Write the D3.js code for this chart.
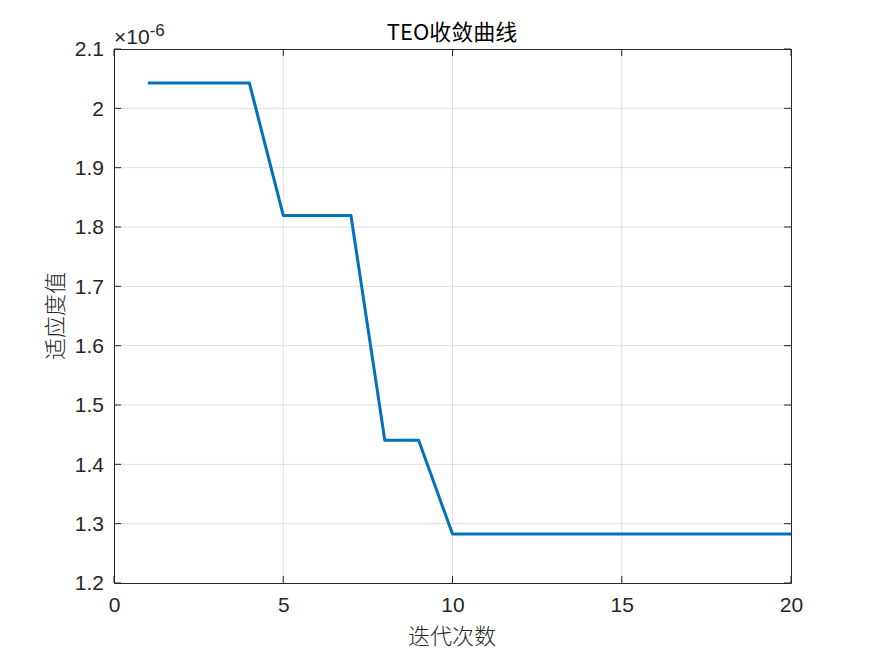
<!DOCTYPE html>
<html><head><meta charset="utf-8">
<script src="https://cdn.jsdelivr.net/npm/d3@7"></script>
<style>body{margin:0;background:#fff}</style>
</head><body>
<svg id="c" width="875" height="656"></svg>
<script>
const iterations = [1,2,3,4,5,6,7,8,9,10,11,12,13,14,15,16,17,18,19,20];
const fitness = [2.0425,2.0425,2.0425,2.0425,1.8195,1.8195,1.8195,1.4405,1.4405,1.2825,1.2825,1.2825,1.2825,1.2825,1.2825,1.2825,1.2825,1.2825,1.2825,1.2825];
const xTicks = [0,5,10,15,20];
const yTicks = [1.2,1.3,1.4,1.5,1.6,1.7,1.8,1.9,2.0,2.1];
const yTickLabels = ["1.2","1.3","1.4","1.5","1.6","1.7","1.8","1.9","2","2.1"];
const title = "TEO收敛曲线", xLabel = "迭代次数", yLabel = "适应度值";

const L=114,R=791,T=49,B=583;
const svg=d3.select("#c");
const x=d3.scaleLinear().domain([0,20]).range([L,R]);
const y=d3.scaleLinear().domain([1.2,2.1]).range([B,T]);
const axCol="#262626", tf="'Liberation Sans',Arial,sans-serif", cjk="'Noto Sans CJK SC',sans-serif";

// grid
const g=svg.append("g");
g.selectAll(".gx").data(xTicks.slice(1,-1)).join("line").attr("x1",d=>x(d)).attr("x2",d=>x(d)).attr("y1",T).attr("y2",B).attr("stroke","#dfdfdf").attr("stroke-width",1);
g.selectAll(".gy").data(yTicks.slice(1,-1)).join("line").attr("y1",d=>y(d)).attr("y2",d=>y(d)).attr("x1",L).attr("x2",R).attr("stroke","#dfdfdf").attr("stroke-width",1);

// line
svg.append("path").datum(iterations.map((v,i)=>[v,fitness[i]]))
 .attr("d",d3.line().x(d=>x(d[0])).y(d=>y(d[1])))
 .attr("fill","none").attr("stroke","#0072BD").attr("stroke-width",3).attr("stroke-linejoin","round");

// axes
const xa=svg.append("g").attr("transform",`translate(0,${B})`).call(d3.axisBottom(x).tickValues(xTicks).tickSize(0).tickPadding(14).tickFormat(d3.format("d")));
const xt=svg.append("g").attr("transform",`translate(0,${T})`).call(d3.axisTop(x).tickValues(xTicks).tickSize(0).tickFormat(""));
const ya=svg.append("g").attr("transform",`translate(${L},0)`).call(d3.axisLeft(y).tickValues(yTicks).tickSize(0).tickPadding(10).tickFormat((d,i)=>yTickLabels[i]));
const yr=svg.append("g").attr("transform",`translate(${R},0)`).call(d3.axisRight(y).tickValues(yTicks).tickSize(0).tickFormat(""));
[xa,xt,ya,yr].forEach(a=>{a.attr("font-size",null).attr("font-family",null);
 a.select(".domain").attr("stroke",axCol).attr("stroke-width",1);
 a.selectAll("text").attr("fill",axCol).style("font-family",tf).style("font-size","21px");});
// inward ticks
const tl=7;
svg.selectAll(".tb").data(xTicks).join("line").attr("x1",d=>x(d)).attr("x2",d=>x(d)).attr("y1",B).attr("y2",B-tl).attr("stroke",axCol);
svg.selectAll(".tt").data(xTicks).join("line").attr("x1",d=>x(d)).attr("x2",d=>x(d)).attr("y1",T).attr("y2",T+tl).attr("stroke",axCol);
svg.selectAll(".tlft").data(yTicks).join("line").attr("y1",d=>y(d)).attr("y2",d=>y(d)).attr("x1",L).attr("x2",L+tl).attr("stroke",axCol);
svg.selectAll(".trt").data(yTicks).join("line").attr("y1",d=>y(d)).attr("y2",d=>y(d)).attr("x1",R).attr("x2",R-tl).attr("stroke",axCol);

// exponent
const ex=svg.append("text").attr("x",114).attr("y",44).style("font-family",tf).style("font-size","21px").attr("fill",axCol);
ex.append("tspan").style("font-weight","300").text("×");
ex.append("tspan").text("10");
ex.append("tspan").attr("dy",-8).style("font-size","17px").text("-6");

svg.append("text").attr("x",452).attr("y",40).attr("text-anchor","middle").style("font-family",cjk).style("font-size","22px").attr("fill","#000").text(title);
svg.append("text").attr("x",452).attr("y",644).attr("text-anchor","middle").style("font-family",cjk).style("font-size","22px").style("font-weight","300").attr("fill",axCol).text(xLabel);
svg.append("text").attr("transform","translate(63,316) rotate(-90)").attr("text-anchor","middle").style("font-family",cjk).style("font-size","22px").style("font-weight","300").attr("fill",axCol).text(yLabel);
</script>
</body></html>
